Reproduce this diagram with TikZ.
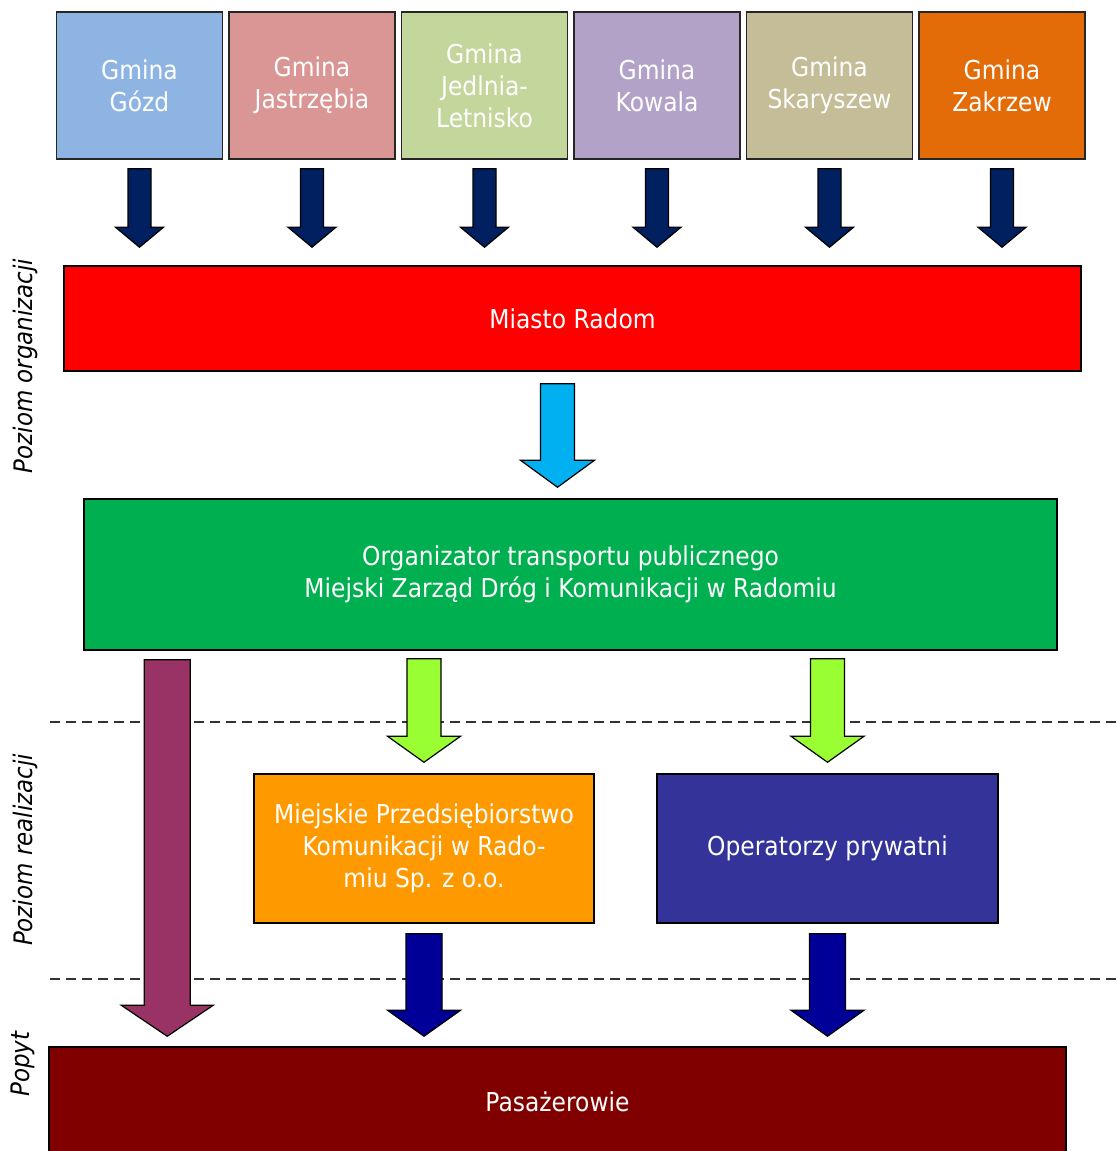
\documentclass[tikz,border=0pt]{standalone}
\usepackage{fontspec}
\setmainfont{DejaVu Sans}[FakeStretch=0.9]
\usetikzlibrary{calc, positioning}
\definecolor{gblue} {RGB}{142,180,227}
\definecolor{grose} {RGB}{217,150,148}
\definecolor{golive}{RGB}{195,214,155}
\definecolor{glila} {RGB}{179,162,199}
\definecolor{gkhaki}{RGB}{196,189,151}
\definecolor{gorng} {RGB}{227,108,  9}
\definecolor{rred}  {RGB}{255,  0,  0}
\definecolor{ogrn}  {RGB}{  0,176, 80}
\definecolor{morng} {RGB}{255,153,  0}
\definecolor{pblue} {RGB}{ 51, 51,153}
\definecolor{pasred}{RGB}{128,  0,  0}
\definecolor{navy}  {RGB}{  0, 32, 96}
\definecolor{cyanarr}{RGB}{ 0,176,240}
\definecolor{limearr}{RGB}{153,255, 51}
\definecolor{plumarr}{RGB}{153, 51,102}
\definecolor{darr}  {RGB}{  0,  0,153}
\tikzset{
  % Gmina box
  GB/.style={rectangle,draw=black!85,fill=#1,text=white,align=center,
             minimum width=166pt,minimum height=147pt,inner sep=0pt,
             line width=1.5pt,font=\fontsize{26}{32}\selectfont},
  % Wide level box
  LB/.style={rectangle,draw=black,fill=#1,text=white,align=center,
             inner sep=0pt,line width=1.5pt,
             font=\fontsize{26}{32}\selectfont},
  % Side label
  SL/.style={rotate=90,font=\fontsize{25.5}{30}\selectfont\itshape},
  Dash/.style={line width=1.4pt,black!80,dash pattern=on 10pt off 6pt},
}
% block arrow: style, top, tip, shaft half, head half, head length
\newcommand{\blockarr}[6]{%
  \draw[draw=black,line width=1.2pt,#1] let \p1=#2, \p2=#3 in
    (\x1-#4,\y1) -- (\x1+#4,\y1) -- (\x1+#4,\y2+#6) -- (\x1+#5,\y2+#6)
    -- (\x1,\y2) -- (\x1-#5,\y2+#6) -- (\x1-#4,\y2+#6) -- cycle;}

\begin{document}
\begin{tikzpicture}[x=1pt,y=-1pt]
  \useasboundingbox (0,0) rectangle (1118,1151);
  % Level separators
  \draw[Dash] (50,722) -- (1118,722);
  \draw[Dash] (50,979) -- (1118,979);
  % Gminy
  \node[GB=gblue] at (139.5,85.5) (g1) {Gmina\\Gózd};
  \node[GB=grose,right=5pt of g1] (g2) {Gmina\\Jastrzębia};
  \node[GB=golive,right=5pt of g2] (g3) {Gmina\\Jedlnia-\\Letnisko};
  \node[GB=glila,right=5pt of g3] (g4) {Gmina\\Kowala};
  \node[GB=gkhaki,right=5pt of g4] (g5) {Gmina\\Skaryszew};
  \node[GB=gorng,right=5pt of g5] (g6) {Gmina\\Zakrzew};
  % Levels
  \node[LB=rred,minimum width=1017pt,minimum height=105pt]
        at (572.5,318.5) (radom) {Miasto Radom};
  \node[LB=ogrn,minimum width=973pt,minimum height=151pt]
        at (570.5,574.5) (org)
        {Organizator transportu publicznego\\Miejski Zarząd Dróg i Komunikacji w Radomiu};
  \node[LB=morng,minimum width=340pt,minimum height=149pt]
        at (424,848.5) (mpk)
        {Miejskie Przedsiębiorstwo\\Komunikacji w Rado-\\miu Sp. z o.o.};
  \node[LB=pblue,minimum width=341pt,minimum height=149pt]
        at (827.5,848.5) (prv) {Operatorzy prywatni};
  \node[LB=pasred,minimum width=1017pt,minimum height=113pt]
        at (557.5,1103.5) (pas) {};
  \node at (557.5,1102) (pastxt) {\fontsize{26}{32}\selectfont\color{white}Pasażerowie};
  % Side labels
  \node[SL] at (25,366) (lorg) {Poziom organizacji};
  \node[SL] at (25,850) (lreal) {Poziom realizacji};
  \node[SL] at (23,1064) (lpop) {Popyt};
  % Arrows
  \foreach \g in {g1,g2,g3,g4,g5,g6}
    \blockarr{fill=navy}{($(\g.south)+(0,9)$)}{($(\g.south |- radom.north)+(0,-18)$)}{11.5pt}{24pt}{20pt};
  \blockarr{fill=cyanarr}{($(radom.south -| pas.north)+(0,12)$)}{($(org.north -| pas.north)+(0,-11)$)}{17pt}{37pt}{27pt};
  \blockarr{fill=plumarr}{($(org.south west)+(84,9)$)}{($(pas.north west)+(119,-10)$)}{23pt}{46pt}{31pt};
  \blockarr{fill=limearr}{($(org.south -| mpk.north)+(0,8)$)}{($(mpk.north)+(0,-11)$)}{17pt}{36.5pt}{26pt};
  \blockarr{fill=limearr}{($(org.south -| prv.north)+(0,8)$)}{($(prv.north)+(0,-11)$)}{17pt}{36.5pt}{26pt};
  \blockarr{fill=darr}{($(mpk.south)+(0,10)$)}{($(pas.north -| mpk.south)+(0,-10)$)}{18pt}{36.5pt}{26pt};
  \blockarr{fill=darr}{($(prv.south)+(0,10)$)}{($(pas.north -| prv.south)+(0,-10)$)}{18pt}{36.5pt}{26pt};
\end{tikzpicture}
\end{document}
